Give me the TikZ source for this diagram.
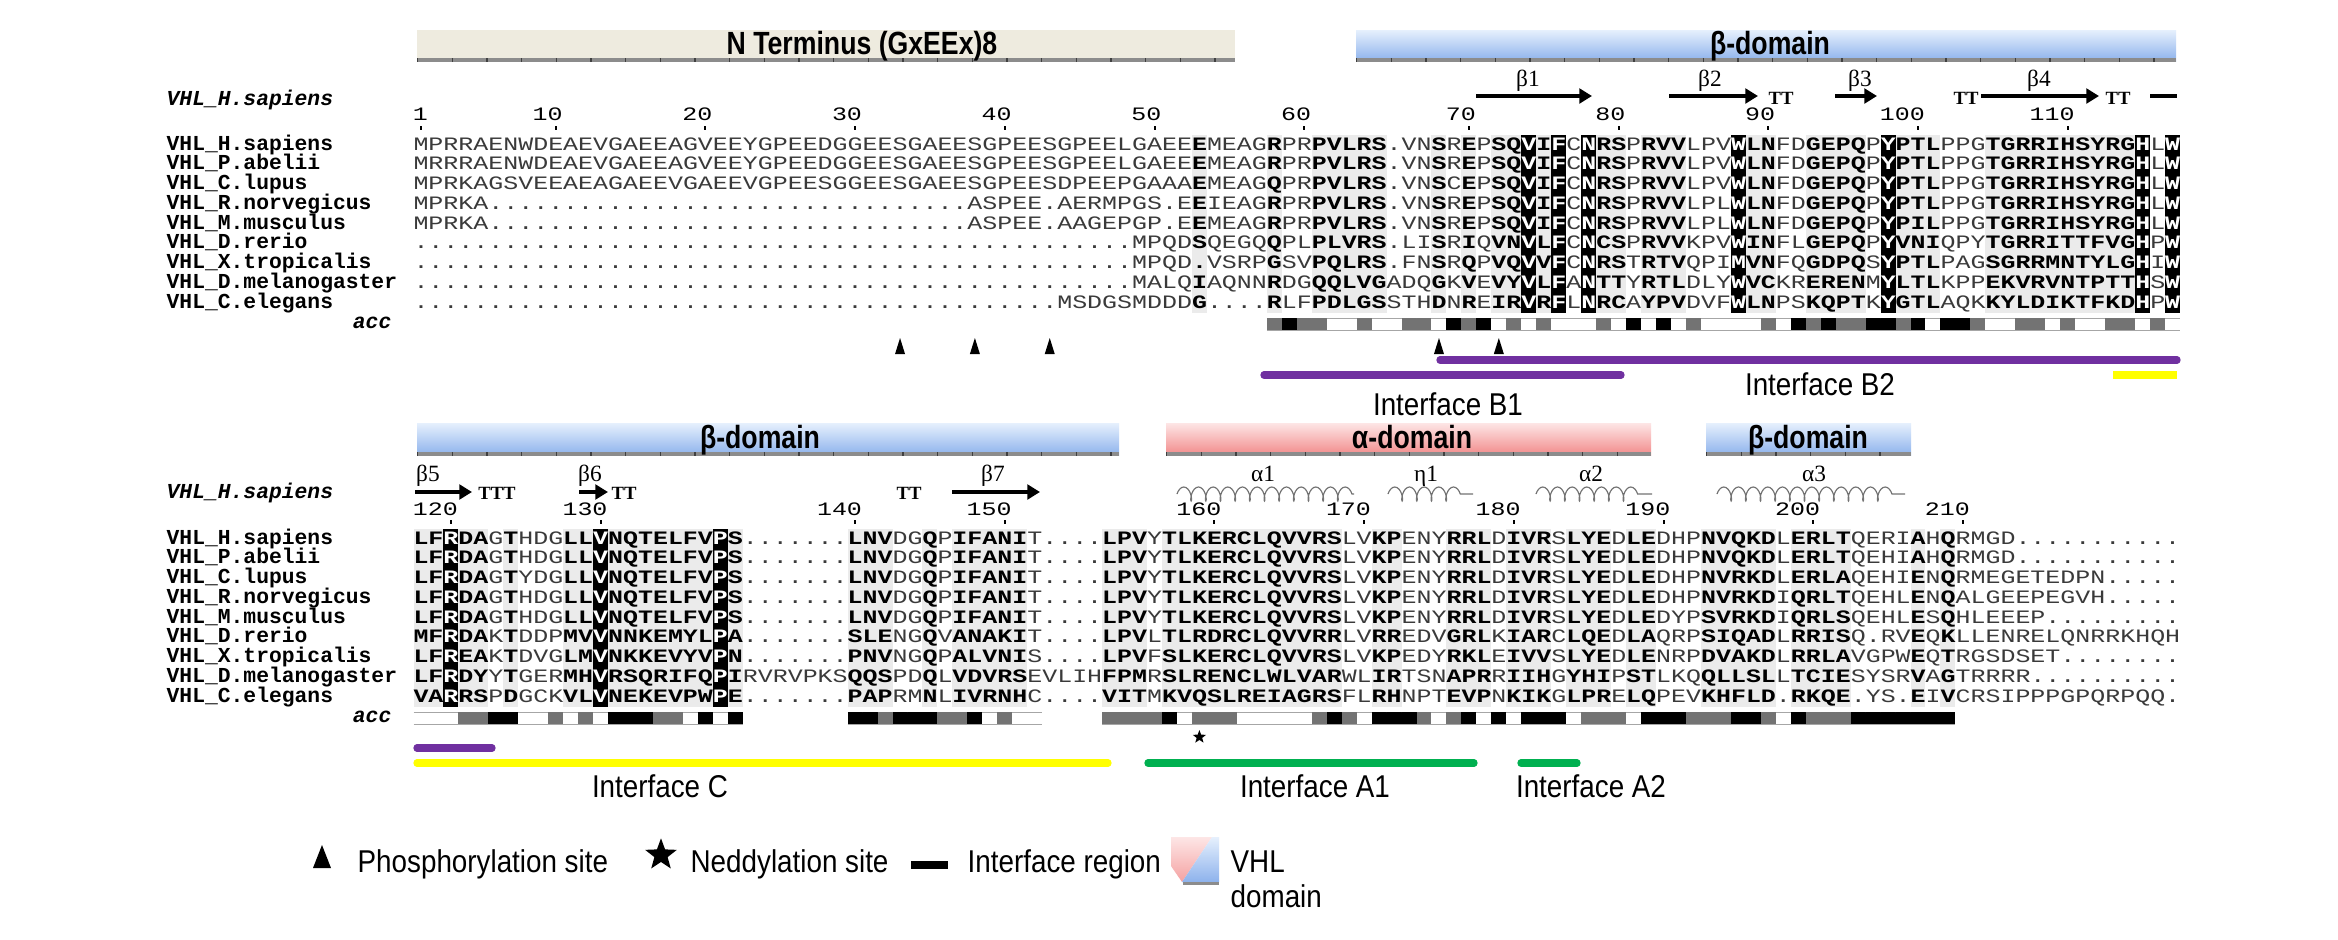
\documentclass[tikz,border=0pt]{standalone}
\usepackage{fontspec}
\setmainfont{Liberation Sans}
\newfontfamily\monof{Liberation Mono}
\newfontfamily\serf{Liberation Serif}
\usepackage{graphicx}
\usetikzlibrary{arrows.meta,decorations.pathmorphing,shapes.geometric}
\definecolor{ntfill}{HTML}{EEEBDF}
\definecolor{bluetop}{HTML}{E6F0FD}
\definecolor{bluebot}{HTML}{8DB2EC}
\definecolor{redtop}{HTML}{FDE6E6}
\definecolor{redbot}{HTML}{F28A8A}
\definecolor{ifpurple}{HTML}{7030A0}
\definecolor{ifyellow}{HTML}{FFFF00}
\definecolor{ifgreen}{HTML}{00B050}
\definecolor{seqreg}{HTML}{3A3A3A}
\newlength\seqw \setlength\seqw{4.4917pt}
\newcommand\seqfont{\monof\fontsize{7.485}{8}\selectfont}
\newcommand\sqz[1]{\scalebox{1}[0.76]{#1}}
\newcommand\tall[1]{\scalebox{0.97}[1.1]{#1}}
\newcommand\tallb[1]{\scalebox{0.93}[1.12]{\bfseries #1}}

\ExplSyntaxOn
\int_new:N \l_vhl_col_int
\tl_new:N \l_vhl_m_tl
\tl_new:N \l_vhl_s_tl
\tl_new:N \l_vhl_k_tl
\tl_new:N \l_vhl_xa_tl
\tl_new:N \l_vhl_xb_tl
\cs_new:Npn \Gap #1 { \prg_replicate:nn {#1} {.} }
\NewDocumentCommand \FmtSeq { m m m }
  {
    \tl_set:Nx \l_vhl_s_tl {#1}
    \tl_set:Nx \l_vhl_k_tl {#3}
    \int_zero:N \l_vhl_col_int
    \tl_map_inline:Nn \l_vhl_s_tl
      {
        \int_incr:N \l_vhl_col_int
        \int_compare:nNnTF { \l_vhl_col_int } > { #2 }
          { \tl_set:Nx \l_vhl_m_tl { \tl_item:Nn \l_vhl_k_tl { \l_vhl_col_int - (#2) } } }
          { \tl_set:Nn \l_vhl_m_tl { . } }
        \str_case_e:nnF { \l_vhl_m_tl }
          {
            { b } { \makebox[\seqw]{ \bfseries ##1 } }
            { X } { \makebox[\seqw]{ \bfseries \color{white} ##1 } }
          }
          { \makebox[\seqw]{ \color{seqreg} ##1 } }
      }
  }
\NewDocumentCommand \ColMarks { m m m m }
  {
    \tl_set:Nx \l_vhl_k_tl {#2}
    \int_zero:N \l_vhl_col_int
    \tl_map_inline:Nn \l_vhl_k_tl
      {
        \int_incr:N \l_vhl_col_int
        \tl_set:Nx \l_vhl_xa_tl { \fp_eval:n { 413.5 + (\l_vhl_col_int + (#1) - 1) * 14.97 } }
        \tl_set:Nx \l_vhl_xb_tl { \fp_eval:n { 413.5 + (\l_vhl_col_int + (#1)) * 14.97 } }
        \str_case:nn {##1}
          {
            { b } { \fill[colbg] (\l_vhl_xa_tl , #3) rectangle (\l_vhl_xb_tl , #4); }
            { X } { \fill[black] (\l_vhl_xa_tl , #3) rectangle (\l_vhl_xb_tl , #4); }
          }
      }
  }
\NewDocumentCommand \AccRow { m m m m }
  {
    \int_set:Nn \l_vhl_col_int { #1 - 1 }
    \tl_map_inline:nn {#2}
      {
        \int_incr:N \l_vhl_col_int
        \tl_set:Nx \l_vhl_xa_tl { \fp_eval:n { 413.5 + (\l_vhl_col_int - 1) * 14.97 } }
        \tl_set:Nx \l_vhl_xb_tl { \fp_eval:n { 413.5 + \l_vhl_col_int * 14.97 } }
        \draw[accedge] (\l_vhl_xa_tl , #3) -- (\l_vhl_xb_tl , #3) (\l_vhl_xa_tl , #4) -- (\l_vhl_xb_tl , #4);
        \str_case:nn {##1}
          {
            { 1 } { \fill[acc1] (\l_vhl_xa_tl , #3) rectangle (\l_vhl_xb_tl , #4); }
            { 2 } { \fill[acc2] (\l_vhl_xa_tl , #3) rectangle (\l_vhl_xb_tl , #4); }
            { 3 } { \fill[black] (\l_vhl_xa_tl , #3) rectangle (\l_vhl_xb_tl , #4); }
          }
      }
  }
\ExplSyntaxOff

\begin{document}
\begin{tikzpicture}[x=0.3pt,y=-0.3pt,
  seqrow/.style={anchor=base west, inner sep=0pt, outer sep=0pt, font=\seqfont},
  namelab/.style={anchor=base west, inner sep=0pt, font=\monof\bfseries\fontsize{6.4}{7}\selectfont},
  hdrlab/.style={anchor=base west, inner sep=0pt, font=\monof\bfseries\itshape\fontsize{6.4}{7}\selectfont},
  acclab/.style={anchor=base east, inner sep=0pt, font=\monof\bfseries\itshape\fontsize{6.4}{7}\selectfont},
  numlab/.style={anchor=base east, inner sep=0pt, font=\seqfont},
  sslab/.style={anchor=base, inner sep=0pt, font=\serf\fontsize{7}{8}\selectfont},
  turnlab/.style={anchor=base, inner sep=0pt, font=\serf\bfseries\fontsize{5.6}{6}\selectfont},
  ssarrow/.style={line width=1.2pt, -{Triangle[length=3.8pt,width=4.4pt]}},
  helix/.style={draw=black!55, line width=0.35pt, decorate, decoration={coil, aspect=0.45, segment length=4.4pt, amplitude=2.1pt}},
  barlab/.style={anchor=base, inner sep=0pt, font=\fontsize{8.6}{11}\selectfont},
  txt/.style={anchor=base, inner sep=0pt, font=\fontsize{8.6}{10}\selectfont},
  txtl/.style={anchor=base west, inner sep=0pt, font=\fontsize{8.6}{10}\selectfont},
  ifline/.style={line width=2.2pt, line cap=round},
  ruler/.style={draw=black!45, line width=1.2pt},
  rulertick/.style={draw=black!75, line width=1.2pt, dash pattern=on 0.4pt off 10pt},
  colbg/.style={fill=black!8},
  acc1/.style={fill=black!30},
  acc2/.style={fill=black!55},
  accedge/.style={draw=black!35, line width=0.3pt},
  tick/.style={fill=black}
]
\fill[white] (0,0) rectangle (2338,940);
\useasboundingbox (0,0) rectangle (2338,940);

% ---------- domain bars, top ----------
\fill[ntfill] (417,30) rectangle (1235,61);
\draw[ruler] (417,60) -- (1235,60);
\draw[rulertick] (417,60) -- (1235,60);
\node[barlab] (ntlab) at (862,54) {\tallb{N Terminus (GxEEx)8}};
\shade[top color=bluetop, bottom color=bluebot] (1356,30) rectangle (2176,61);
\draw[ruler] (1356,60) -- (2176,60);
\draw[rulertick] (1356,60) -- (2176,60);
\node[barlab] (b1lab) at (1770,54) {\tallb{β-domain}};

% ---------- domain bars, bottom ----------
\shade[top color=bluetop, bottom color=bluebot] (417,423) rectangle (1119,455);
\draw[ruler] (417,454) -- (1119,454);
\draw[rulertick] (417,454) -- (1119,454);
\node[barlab] (b2lab) at (760,448) {\tallb{β-domain}};
\shade[top color=redtop, bottom color=redbot] (1166,423) rectangle (1651,455);
\draw[ruler] (1166,454) -- (1651,454);
\draw[rulertick] (1166,454) -- (1651,454);
\node[barlab] (alab) at (1412,448) {\tallb{α-domain}};
\shade[top color=bluetop, bottom color=bluebot] (1706,423) rectangle (1911,455);
\draw[ruler] (1706,454) -- (1911,454);
\draw[rulertick] (1706,454) -- (1911,454);
\node[barlab] (b3lab) at (1808,448) {\tallb{β-domain}};

% ---------- top block ----------
\node[hdrlab] (hdr1) at (166,105) {VHL\_H.sapiens};
\foreach \n/\c in {1/1,10/10,20/20,30/30,40/40,50/50,60/60,70/71,80/81,90/91,100/101,110/111}{
  \pgfmathsetmacro\cx{421+(\c-1)*14.97}
  \node[numlab] (tn\n) at (\cx+7.49,120) {\sqz{\n}};
  \fill[tick] (\cx-1,126) rectangle (\cx+1,130);
}
% secondary structure
\draw[ssarrow] (1476,96) -- (1592,96);
\node[sslab] (sb1) at (1528,86) {β1};
\draw[ssarrow] (1669,96) -- (1758,96);
\node[sslab] (sb2) at (1710,86) {β2};
\node[turnlab] (tt1) at (1781,104) {TT};
\draw[ssarrow] (1835,96) -- (1877,96);
\node[sslab] (sb3) at (1860,86) {β3};
\node[turnlab] (tt2) at (1966,104) {TT};
\draw[ssarrow] (1981,96) -- (2099,96);
\node[sslab] (sb4) at (2039,86) {β4};
\node[turnlab] (tt3) at (2118,104) {TT};
\draw[line width=1.2pt] (2150,96) -- (2177,96);

\def\tmask{b....b..bbbbb...b.b.bbXbX.Xbb.bbb...Xbb..bbbb.Xbbb...bbbbbbbbbbX.X}
\ColMarks{52}{\tmask}{135}{313}

\foreach \nm [count=\i from 0] in {VHL\_H.sapiens,VHL\_P.abelii,VHL\_C.lupus,VHL\_R.norvegicus,VHL\_M.musculus,VHL\_D.rerio,VHL\_X.tropicalis,VHL\_D.melanogaster,VHL\_C.elegans}{
  \node[namelab] (tname\i) at (166,150.2+19.75*\i) {\nm};
}
\node[seqrow] (t1) at (413.5,150.2) {\sqz{\FmtSeq{MPRRAENWDEAEVGAEEAGVEEYGPEEDGGEESGAEESGPEESGPEELGAEEEMEAGRPRPVLRS.VNSREPSQVIFCNRSPRVVLPVWLNFDGEPQPYPTLPPGTGRRIHSYRGHLW}{52}{\tmask}}};
\node[seqrow] (t2) at (413.5,169.95) {\sqz{\FmtSeq{MRRRAENWDEAEVGAEEAGVEEYGPEEDGGEESGAEESGPEESGPEELGAEEEMEAGRPRPVLRS.VNSREPSQVIFCNRSPRVVLPVWLNFDGEPQPYPTLPPGTGRRIHSYRGHLW}{52}{\tmask}}};
\node[seqrow] (t3) at (413.5,189.7) {\sqz{\FmtSeq{MPRKAGSVEEAEAGAEEVGAEEVGPEESGGEESGAEESGPEESDPEEPGAAAEMEAGQPRPVLRS.VNSCEPSQVIFCNRSPRVVLPVWLNFDGEPQPYPTLPPGTGRRIHSYRGHLW}{52}{\tmask}}};
\node[seqrow] (t4) at (413.5,209.45) {\sqz{\FmtSeq{MPRKA\Gap{32}ASPEE.AERMPGS.EEIEAGRPRPVLRS.VNSREPSQVIFCNRSPRVVLPLWLNFDGEPQPYPTLPPGTGRRIHSYRGHLW}{52}{\tmask}}};
\node[seqrow] (t5) at (413.5,229.2) {\sqz{\FmtSeq{MPRKA\Gap{32}ASPEE.AAGEPGP.EEMEAGRPRPVLRS.VNSREPSQVIFCNRSPRVVLPLWLNFDGEPQPYPILPPGTGRRIHSYRGHLW}{52}{\tmask}}};
\node[seqrow] (t6) at (413.5,248.95) {\sqz{\FmtSeq{\Gap{48}MPQDSQEGQQPLPLVRS.LISRIQVNVLFCNCSPRVVKPVWINFLGEPQPYVNIQPYTGRRITTFVGHPW}{52}{\tmask}}};
\node[seqrow] (t7) at (413.5,268.7) {\sqz{\FmtSeq{\Gap{48}MPQD.VSRPGSVPQLRS.FNSRQPVQVVFCNRSTRTVQPIMVNFQGDPQSYPTLPAGSGRRMNTYLGHIW}{52}{\tmask}}};
\node[seqrow] (t8) at (413.5,288.45) {\sqz{\FmtSeq{\Gap{48}MALQIAQNNRDGQQLVGADQGKVEVYVLFANTTYRTLDLYWVCKRERENMYLTLKPPEKVRVNTPTTHSW}{52}{\tmask}}};
\node[seqrow] (t9) at (413.5,308.2) {\sqz{\FmtSeq{\Gap{43}MSDGSMDDDG....RLFPDLGSSTHDNREIRVRFLNRCAYPVDVFWLNPSKQPTKYGTLAQKKYLDIKTFKDHPW}{52}{\tmask}}};
\node[acclab] (acc1) at (392,328) {acc};
\AccRow{58}{2322002002203230202000203030200002032322332303320022020022020}{318}{330}

% phosphorylation sites
\foreach \c in {33,38,43,69,73}{
  \pgfmathsetmacro\cx{421+(\c-1)*14.97}
  \fill (\cx-5,354) -- (\cx+5,354) -- (\cx,338) -- cycle;
}
% interfaces top
\draw[ifline, draw=ifpurple] (1440,360) -- (2177,360);
\draw[ifline, draw=ifpurple] (1264,375) -- (1621,375);
\draw[ifline, draw=ifyellow, line cap=butt] (2113,375) -- (2177,375);
\node[txt] (ifb1) at (1448,415) {\tall{Interface B1}};
\node[txt] (ifb2) at (1820,395) {\tall{Interface B2}};

% ---------- bottom block ----------
\node[hdrlab] (hdr2) at (166,498) {VHL\_H.sapiens};
\foreach \n/\c in {120/3,130/13,140/30,150/40,160/54,170/64,180/74,190/84,200/94,210/104}{
  \pgfmathsetmacro\cx{421+(\c-1)*14.97}
  \node[numlab] (bn\n) at (\cx+7.49,515) {\sqz{\n}};
  \fill[tick] (\cx-1,520) rectangle (\cx+1,524);
}
\draw[ssarrow] (415,492) -- (472,492);
\node[sslab] (sb5) at (428,481) {β5};
\node[turnlab] (tt4) at (497,499) {TTT};
\draw[ssarrow] (579,492) -- (608,492);
\node[sslab] (sb6) at (590,481) {β6};
\node[turnlab] (tt5) at (624,499) {TT};
\node[turnlab] (tt6) at (909,499) {TT};
\draw[ssarrow] (952,492) -- (1040,492);
\node[sslab] (sb7) at (993,481) {β7};
\draw[helix] (1177,494) -- (1354,494);
\node[sslab] (ha1) at (1263,481) {α1};
\draw[helix] (1388,494) -- (1473,494);
\node[sslab] (hn1) at (1426,481) {η1};
\draw[helix] (1536,494) -- (1652,494);
\node[sslab] (ha2) at (1591,481) {α2};
\draw[helix] (1717,494) -- (1905,494);
\node[sslab] (ha3) at (1814,481) {α3};

\def\bmask{bbXbb.b...bbXbbbbbbbXb.......bbb..b.bbbbb.....bbb.bbbbbbbbbbbb..bb...bbb.bbb.bbb.bb...bbbbb.bbbb....b.b}
\ColMarks{0}{\bmask}{529}{707}

\foreach \nm [count=\i from 0] in {VHL\_H.sapiens,VHL\_P.abelii,VHL\_C.lupus,VHL\_R.norvegicus,VHL\_M.musculus,VHL\_D.rerio,VHL\_X.tropicalis,VHL\_D.melanogaster,VHL\_C.elegans}{
  \node[namelab] (bname\i) at (166,544.2+19.75*\i) {\nm};
}
\node[seqrow] (b1) at (413.5,544.2) {\sqz{\FmtSeq{LFRDAGTHDGLLVNQTELFVPS.......LNVDGQPIFANIT....LPVYTLKERCLQVVRSLVKPENYRRLDIVRSLYEDLEDHPNVQKDLERLTQERIAHQRMGD\Gap{11}}{0}{\bmask}}};
\node[seqrow] (b2) at (413.5,563.95) {\sqz{\FmtSeq{LFRDAGTHDGLLVNQTELFVPS.......LNVDGQPIFANIT....LPVYTLKERCLQVVRSLVKPENYRRLDIVRSLYEDLEDHPNVQKDLERLTQEHIAHQRMGD\Gap{11}}{0}{\bmask}}};
\node[seqrow] (b3) at (413.5,583.7) {\sqz{\FmtSeq{LFRDAGTYDGLLVNQTELFVPS.......LNVDGQPIFANIT....LPVYTLKERCLQVVRSLVKPENYRRLDIVRSLYEDLEDHPNVRKDLERLAQEHIENQRMEGETEDPN\Gap{5}}{0}{\bmask}}};
\node[seqrow] (b4) at (413.5,603.45) {\sqz{\FmtSeq{LFRDAGTHDGLLVNQTELFVPS.......LNVDGQPIFANIT....LPVYTLKERCLQVVRSLVKPENYRRLDIVRSLYEDLEDHPNVRKDIQRLTQEHLENQALGEEPEGVH\Gap{5}}{0}{\bmask}}};
\node[seqrow] (b5) at (413.5,623.2) {\sqz{\FmtSeq{LFRDAGTHDGLLVNQTELFVPS.......LNVDGQPIFANIT....LPVYTLKERCLQVVRSLVKPENYRRLDIVRSLYEDLEDYPSVRKDIQRLSQEHLESQHLEEEP\Gap{9}}{0}{\bmask}}};
\node[seqrow] (b6) at (413.5,642.95) {\sqz{\FmtSeq{MFRDAKTDDPMVVNNKEMYLPA.......SLENGQVANAKIT....LPVLTLRDRCLQVVRRLVRREDVGRLKIARCLQEDLAQRPSIQADLRRISQ.RVEQKLLENRELQNRRKHQH}{0}{\bmask}}};
\node[seqrow] (b7) at (413.5,662.7) {\sqz{\FmtSeq{LFREAKTDVGLMVNKKEVYVPN.......PNVNGQPALVNIS....LPVFSLKERCLQVVRSLVKPEDYRKLEIVVSLYEDLENRPDVAKDLRRLAVGPWEQTRGSDSET\Gap{8}}{0}{\bmask}}};
\node[seqrow] (b8) at (413.5,682.45) {\sqz{\FmtSeq{LFRDYYTGERMHVRSQRIFQPIRVRVPKSQQSPDQLVDVRSEVLIHFPMRSLRENCLWLVARWLIRTSNAPRRIIHGYHIPSTLKQQLLSLLTCIESYSRVAGTRRRR\Gap{10}}{0}{\bmask}}};
\node[seqrow] (b9) at (413.5,702.2) {\sqz{\FmtSeq{VARRSPDGCKVLVNEKEVPWPE.......PAPRMNLIVRNHC....VITMKVQSLREIAGRSFLRHNPTEVPNKIKGLPRELQPEVKHFLD.RKQE.YS.EIVCRSIPPPGPQRPQQ.}{0}{\bmask}}};
\node[acclab] (acc2) at (392,722) {acc};
\AccRow{1}{0002233002020333220303}{712}{724}
\AccRow{30}{3323332230200}{712}{724}
\AccRow{47}{222230222000002320333202303033302220333222332032223333333}{712}{724}

% neddylation
\node[star, star points=5, star point ratio=2.4, fill=black, inner sep=0pt, minimum size=4.2pt] (ned) at (1199.4,737) {};

% interfaces bottom
\draw[ifline, draw=ifpurple] (417,748) -- (492,748);
\draw[ifline, draw=ifyellow] (417,763) -- (1108,763);
\draw[ifline, draw=ifgreen] (1148,763) -- (1474,763);
\draw[ifline, draw=ifgreen] (1521,763) -- (1577,763);
\node[txt] (ifc) at (660,797) {\tall{Interface C}};
\node[txt] (ifa1) at (1315,797) {\tall{Interface A1}};
\node[txt] (ifa2) at (1591,797) {\tall{Interface A2}};

% ---------- legend ----------
\fill (313,868) -- (331,868) -- (322,845) -- cycle;
\node[txtl] (lphos) at (357,872) {\tall{Phosphorylation site}};
\node[star, star points=5, star point ratio=2.4, fill=black, inner sep=0pt, minimum size=10pt] (lstar) at (661,855) {};
\node[txtl] (lned) at (690,872) {\tall{Neddylation site}};
\draw[line width=2.4pt] (911,865) -- (948,865);
\node[txtl] (lif) at (967,872) {\tall{Interface region}};
\shade[top color=redtop, bottom color=redbot!80] (1171,837) -- (1212,837) -- (1182,882) -- (1171,866) -- cycle;
\shade[top color=bluetop, bottom color=bluebot] (1212,837) -- (1219,837) -- (1219,882) -- (1182,882) -- cycle;
\draw[black!45, line width=0.9pt] (1183,883) -- (1219,883);
\node[txtl] (lvhl) at (1230,872) {\tall{VHL}};
\node[txtl] (ldom) at (1230,907) {\tall{domain}};
\end{tikzpicture}
\end{document}
